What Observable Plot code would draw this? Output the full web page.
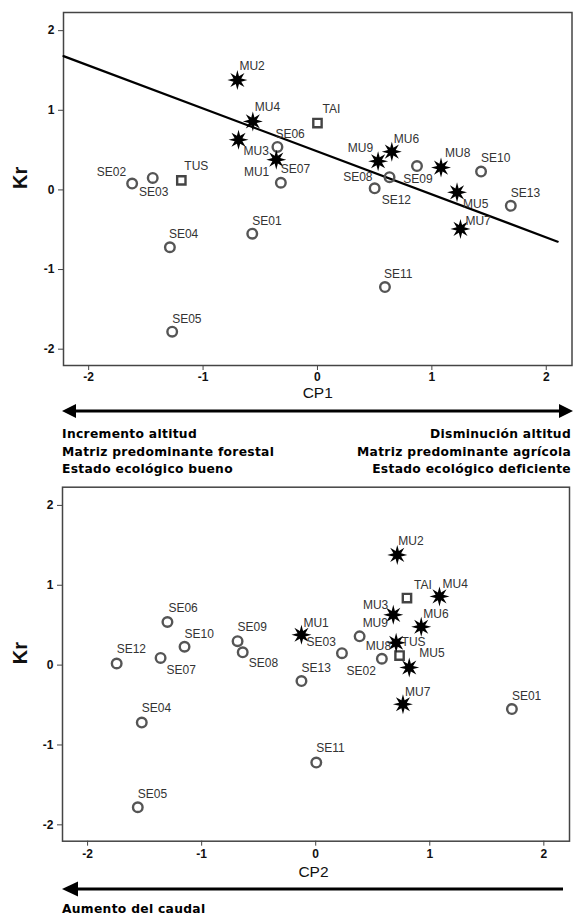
<!DOCTYPE html>
<html>
<head>
<meta charset="utf-8">
<script src="https://cdn.jsdelivr.net/npm/d3@7"></script>
<script src="https://cdn.jsdelivr.net/npm/@observablehq/plot@0.6"></script>
<style>
  body { margin: 0; background: #fff; }
  #wrap { position: relative; width: 573px; height: 916px; background: #fff; overflow: hidden; }
  #top, #bottom { position: absolute; left: 0; }
  #top { top: 0; }
  #bottom { top: 480px; }
  #notes { position: absolute; left: 0; top: 0; pointer-events: none; }
  .nota { font-family: "DejaVu Sans", Verdana, sans-serif; font-weight: bold; font-size: 12.3px; letter-spacing: 0.3px; fill: #000; }
</style>
</head>
<body>
<div id="wrap">
  <div id="top"></div>
  <div id="bottom"></div>
  <svg id="notes" width="573" height="916" xmlns="http://www.w3.org/2000/svg">
    <!-- CP1 double arrow -->
    <line x1="74" y1="411" x2="561" y2="411" stroke="#000" stroke-width="3"/>
    <polygon points="62,411 76,404 76,418" fill="#000"/>
    <polygon points="573,411 559,404 559,418" fill="#000"/>
    <text class="nota" x="62" y="437.5">Incremento altitud</text>
    <text class="nota" x="62" y="455.5">Matriz predominante forestal</text>
    <text class="nota" x="62" y="473">Estado ecológico bueno</text>
    <text class="nota" x="571" y="437.5" text-anchor="end">Disminución altitud</text>
    <text class="nota" x="571" y="455.5" text-anchor="end">Matriz predominante agrícola</text>
    <text class="nota" x="571" y="473" text-anchor="end">Estado ecológico deficiente</text>
    <!-- CP2 arrow -->
    <line x1="76" y1="889" x2="563" y2="889" stroke="#000" stroke-width="3"/>
    <polygon points="62,889 78,881.5 78,896.5" fill="#000"/>
    <text class="nota" x="62" y="913">Aumento del caudal</text>
  </svg>
</div>
<script>
// ---------------- data ----------------
const sitios = ["MU1","MU2","MU3","MU4","MU5","MU6","MU7","MU8","MU9","TAI","TUS",
                "SE01","SE02","SE03","SE04","SE05","SE06","SE07","SE08","SE09","SE10","SE11","SE12","SE13"];
const Kr  = [0.38, 1.38, 0.63, 0.86, -0.03, 0.48, -0.49, 0.28, 0.36, 0.84, 0.12,
             -0.55, 0.08, 0.15, -0.72, -1.78, 0.54, 0.09, 0.16, 0.30, 0.23, -1.22, 0.02, -0.20];
const CP1 = [-0.36, -0.70, -0.69, -0.565, 1.22, 0.65, 1.25, 1.08, 0.53, 0.00, -1.19,
             -0.57, -1.62, -1.44, -1.29, -1.27, -0.35, -0.32, 0.63, 0.87, 1.43, 0.59, 0.50, 1.69];
const CP2 = [-0.125, 0.715, 0.68, 1.085, 0.82, 0.925, 0.765, 0.705, 0.385, 0.80, 0.735,
             1.72, 0.58, 0.23, -1.525, -1.56, -1.30, -1.36, -0.64, -0.685, -1.15, 0.005, -1.745, -0.125];
// marker group per site (first panel) and (second panel: MU9 drawn as circle)
const tipoCP1 = ["MU","MU","MU","MU","MU","MU","MU","MU","MU","REF","REF",
                 "SE","SE","SE","SE","SE","SE","SE","SE","SE","SE","SE","SE","SE"];
const tipoCP2 = ["MU","MU","MU","MU","MU","MU","MU","MU","SE","REF","REF",
                 "SE","SE","SE","SE","SE","SE","SE","SE","SE","SE","SE","SE","SE"];
const ticks = [-2, -1, 0, 1, 2];
// fitted line Kr ~ CP1
const ajusteIntercepto = 0.4825;
const ajustePendiente = -0.5394;
const ajusteRango = [-2.22, 2.10];

// ---------------- layout (label placement: dx, dy, anchor) ----------------
const etiquetasCP1 = {
  MU1:[-7,12,"end"], MU2:[2,-14,"start"], MU3:[5,11,"start"], MU4:[2,-14,"start"],
  MU5:[6,12,"start"], MU6:[2,-13,"start"], MU7:[5,-8,"start"], MU8:[4,-14,"start"],
  MU9:[-5,-13,"end"], TAI:[5,-14,"start"], TUS:[3,-14,"start"],
  SE01:[0,-13,"start"], SE02:[-6,-11,"end"], SE03:[1,14,"middle"], SE04:[-1,-13,"start"],
  SE05:[0,-13,"start"], SE06:[-2,-13,"start"], SE07:[0,-13.5,"start"], SE08:[-17,0,"end"],
  SE09:[1,13,"middle"], SE10:[0,-13,"start"], SE11:[-1,-13,"start"], SE12:[7,12,"start"],
  SE13:[0,-13,"start"]
};
const etiquetasCP2 = {
  MU1:[2,-12,"start"], MU2:[1,-14,"start"], MU3:[-5,-10,"end"], MU4:[3,-12,"start"],
  MU5:[10,-14,"start"], MU6:[2,-13,"start"], MU7:[2,-12,"start"], MU8:[-5,3,"end"],
  MU9:[3,-13,"start"], TAI:[7,-13,"start"], TUS:[2,-13,"start"],
  SE01:[0,-13,"start"], SE02:[-6,12,"end"], SE03:[-6,-11,"end"], SE04:[0,-14,"start"],
  SE05:[0,-13,"start"], SE06:[1,-14,"start"], SE07:[6,12,"start"], SE08:[6,11,"start"],
  SE09:[0,-14,"start"], SE10:[0,-13,"start"], SE11:[0,-14,"start"], SE12:[0,-14,"start"],
  SE13:[0,-13,"start"]
};

// 8-point star symbol
const star8 = {
  draw(context, size) {
    const R = Math.sqrt(size / Math.PI), r = R * 0.42, n = 8;
    for (let i = 0; i < 2 * n; i++) {
      const a = Math.PI * i / n - Math.PI / 2;
      const rad = i % 2 ? r : R;
      const x = rad * Math.cos(a), y = rad * Math.sin(a);
      if (i === 0) context.moveTo(x, y); else context.lineTo(x, y);
    }
    context.closePath();
  }
};

function panel({xKey, tipos, etiquetas, xLabel, marginTop, marginLeft, marginRight, marginBottom, labelDy, labelDx, tickPad, ajuste}) {
  const rows = sitios.map((s, i) => ({sitio: s, cp1: CP1[i], cp2: CP2[i], kr: Kr[i], tipo: tipos[i]}));
  const font = "Liberation Sans, Arial, sans-serif";
  const marks = [
    Plot.frame({stroke: "#444", strokeWidth: 1.5}),
    Plot.axisY(ticks, {anchor: "left", tickSize: 5, tickPadding: 4, fontSize: 12, fontWeight: "bold",
      fill: "#111", stroke: "#444", tickFormat: d => String(d), label: null, fontFamily: font}),
    Plot.axisX(ticks, {anchor: "bottom", tickSize: 5, tickPadding: tickPad, fontSize: 12, fontWeight: "bold",
      fill: "#111", stroke: "#444", tickFormat: d => String(d), label: null, fontFamily: font})
  ];
  if (ajuste) {
    const pts = ajusteRango.map(x => ({x, y: ajusteIntercepto + ajustePendiente * x}));
    marks.push(Plot.line(pts, {x: "x", y: "y", stroke: "#000", strokeWidth: 2.2}));
  }
  marks.push(
    Plot.dot(rows.filter(d => d.tipo === "SE"), {x: xKey, y: "kr", r: 4.8, fill: "none", stroke: "#555", strokeWidth: 2.4}),
    Plot.dot(rows.filter(d => d.tipo === "REF"), {x: xKey, y: "kr", r: 4.7, symbol: "square", fill: "none", stroke: "#444", strokeWidth: 2.4}),
    Plot.dot(rows.filter(d => d.tipo === "MU"), {x: xKey, y: "kr", r: 10, symbol: star8, fill: "#000", stroke: "none"})
  );
  for (const d of rows) {
    const [dx, dy, anchor] = etiquetas[d.sitio];
    marks.push(Plot.text([d], {x: xKey, y: "kr", text: "sitio", dx, dy, textAnchor: anchor,
      fontSize: 12, fill: "#333", fontFamily: font}));
  }
  marks.push(
    Plot.text(["Kr"], {frameAnchor: "left", dx: 20.5 - marginLeft, rotate: -90, fontSize: 20, fontWeight: "bold", fill: "#111", fontFamily: font}),
    Plot.text([xLabel], {frameAnchor: "bottom", dy: labelDy, dx: labelDx, fontSize: 15.5, fill: "#111", fontFamily: font})
  );
  return Plot.plot({
    width: 573, height: 400,
    marginTop, marginLeft, marginRight, marginBottom,
    x: {domain: [-2.22, 2.225]},
    y: {domain: [-2.205, 2.228]},
    style: {background: "white", fontFamily: font, overflow: "visible"},
    marks
  });
}

document.getElementById("top").append(panel({
  xKey: "cp1", tipos: tipoCP1, etiquetas: etiquetasCP1, xLabel: "CP1",
  marginTop: 12, marginLeft: 63, marginRight: 1.5, marginBottom: 35, labelDy: 32, labelDx: 0, tickPad: 2, ajuste: true
}));
document.getElementById("bottom").append(panel({
  xKey: "cp2", tipos: tipoCP2, etiquetas: etiquetasCP2, xLabel: "CP2",
  marginTop: 6.7, marginLeft: 62, marginRight: 4, marginBottom: 39.3, labelDy: 35.3, labelDx: -2.5, tickPad: 3, ajuste: false
}));
</script>
</body>
</html>
